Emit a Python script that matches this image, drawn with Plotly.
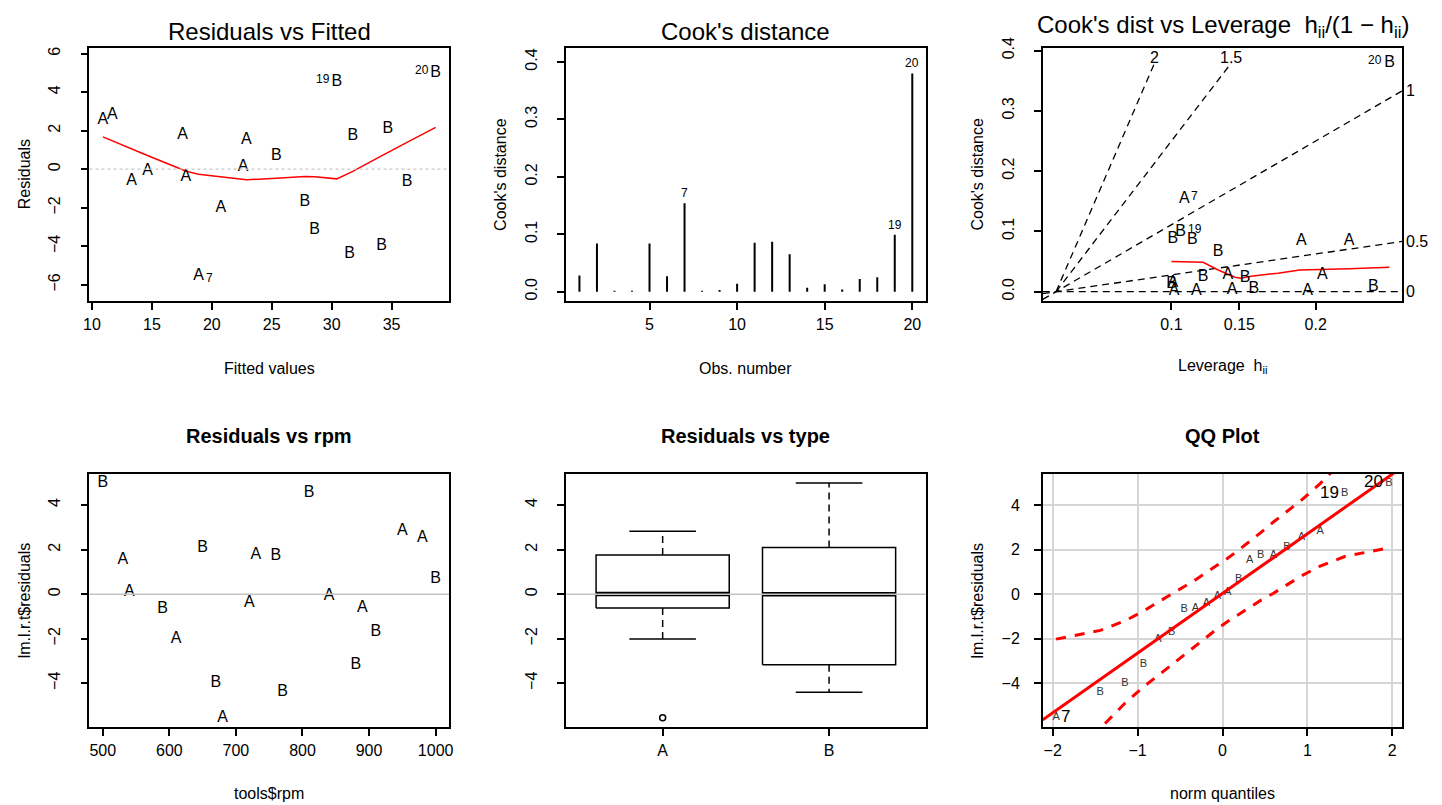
import plotly.graph_objects as go

W, H = 1442, 805          # browser window
OFF = 8                   # default page margin of the html body
FW, FH = W - OFF, H - OFF  # figure size so that it fits the window exactly
FONT = "Liberation Sans, Arial, Helvetica, sans-serif"

# ---------------- data ----------------
obs = list(range(1, 21))
tool_type = ["A"] * 10 + ["B"] * 10
rpm = [610, 950, 720, 840, 980, 530, 680, 540, 890, 730,
       670, 770, 880, 1000, 760, 590, 910, 650, 810, 500]
fitted = [20.75, 11.70, 17.83, 14.63, 10.91, 22.88, 18.89, 22.62, 13.30, 17.56,
          34.16, 31.50, 28.57, 25.38, 31.76, 36.29, 27.77, 34.69, 30.43, 38.68]
resid = [-2.02, 2.82, -0.40, -0.09, 2.54, 1.51, -5.55, 0.10, -0.62, 1.76,
         -4.00, -4.41, -3.17, 0.67, 1.73, -0.67, -1.70, 2.09, 4.52, 4.99]
cooks = [0.028, 0.084, 0.0015, 0.0015, 0.084, 0.027, 0.154, 0.0015, 0.003, 0.014,
         0.085, 0.087, 0.065, 0.007, 0.013, 0.004, 0.022, 0.025, 0.099, 0.380]
leverage = [0.142, 0.191, 0.102, 0.119, 0.220, 0.204, 0.110, 0.195, 0.145, 0.101,
            0.116, 0.101, 0.135, 0.234, 0.100, 0.160, 0.154, 0.124, 0.107, 0.243]
id_obs = [7, 19, 20]

# smoother in Residuals vs Fitted
lowess_x = [10.91, 11.70, 13.30, 14.63, 17.56, 17.83, 18.89, 20.75, 22.62, 22.88,
            25.38, 27.77, 28.57, 30.43, 31.50, 31.76, 34.16, 34.69, 36.29, 38.68]
lowess_y = [1.68, 1.47, 1.06, 0.71, -0.03, -0.10, -0.26, -0.40, -0.53, -0.55,
            -0.47, -0.38, -0.39, -0.50, -0.19, -0.11, 0.69, 0.87, 1.39, 2.17]

# smoother in Cook's dist vs leverage
lev_smooth_h = [0.100, 0.124, 0.135, 0.147, 0.151, 0.158, 0.176, 0.190, 0.220, 0.243]
lev_smooth_cook = [0.050, 0.0486, 0.036, 0.024, 0.0224, 0.0257, 0.0306, 0.036, 0.038, 0.0404]

# contour levels of standardized residual
contour_full = [0, 0.5, 1]
contour_top = [1.5, 2]
contour_top_end = 0.38
lev_ticks = [0.1, 0.15, 0.2]

# boxplot stats (Residuals vs type)
box_cats = ["A", "B"]
box_lo = [-2.02, -4.41]
box_q1 = [-0.62, -3.17]
box_med = [0.005, 0.0]
box_q3 = [1.76, 2.09]
box_hi = [2.82, 4.99]
box_out_cat = ["A"]
box_out_val = [-5.55]

# QQ plot
qq_theoretical = [-1.96, -1.44, -1.15, -0.93, -0.76, -0.60, -0.45, -0.32, -0.19, -0.06,
                  0.06, 0.19, 0.32, 0.45, 0.60, 0.76, 0.93, 1.15, 1.44, 1.96]
qq_band_upper = [-2.02, -1.63, -1.20, -0.76, -0.36, 0.02, 0.34, 0.64, 0.96, 1.29,
                 1.61, 1.98, 2.36, 2.76, 3.24, 3.72, 4.22, 4.96, 6.09, 8.48]
qq_band_lower = [-8.42, -6.03, -4.90, -4.16, -3.66, -3.18, -2.70, -2.30, -1.92, -1.55,
                 -1.23, -0.90, -0.58, -0.28, 0.04, 0.42, 0.82, 1.26, 1.69, 2.08]
qq_intercept = 0.03
qq_slope = 2.68

# ---------------- layout helpers (page pixel coordinates) ----------------
cols = [(84, 446), (564, 926), (1044, 1406)]
rows = [(37, 294), (469, 726)]


def fx(px):
    return (px - OFF) / FW


def fy(py):
    return 1 - (py - OFF) / FH


def xdom(c):
    return [fx(cols[c][0]), fx(cols[c][1])]


def ydom(r):
    return [fy(rows[r][1]), fy(rows[r][0])]


def axis(dom, anchor, rng, **kw):
    d = dict(domain=dom, anchor=anchor, range=rng, showline=True, mirror=True,
             linecolor="black", linewidth=1.5, ticks="outside", ticklen=7,
             tickwidth=1.5, tickcolor="black", showgrid=False, zeroline=False,
             tickfont=dict(family=FONT, size=16, color="black"))
    d.update(kw)
    return d


fig = go.Figure()
annotations = []
shapes = []


def ann(text, px, py, size=16, bold=False, angle=0, xanchor="center", yanchor="middle"):
    if bold:
        text = "<b>" + text + "</b>"
    annotations.append(dict(text=text, x=fx(px), y=fy(py), xref="paper", yref="paper",
                            showarrow=False, textangle=angle, xanchor=xanchor, yanchor=yanchor,
                            font=dict(family=FONT, size=size, color="black")))


def dann(text, x, y, ax, size=12, xanchor="center", yanchor="middle", xs=0, ys=0, color="black"):
    annotations.append(dict(text=text, x=x, y=y, xref="x" + ax, yref="y" + ax,
                            showarrow=False, xanchor=xanchor, yanchor=yanchor,
                            xshift=xs, yshift=ys,
                            font=dict(family=FONT, size=size, color=color)))


def hline0(ax, color, dash, width):
    shapes.append(dict(type="line", xref="x" + ax + " domain", yref="y" + ax,
                       x0=0, x1=1, y0=0, y1=0, layer="above",
                       line=dict(color=color, dash=dash, width=width)))


def letters(x, y, ax, labels, size=16, color="black"):
    fig.add_trace(go.Scatter(x=x, y=y, mode="text", text=labels,
                             textfont=dict(family=FONT, size=size, color=color),
                             textposition="middle center", cliponaxis=False,
                             xaxis="x" + ax, yaxis="y" + ax, hoverinfo="skip"))


# ---------------- Panel 1: Residuals vs Fitted ----------------
fig.add_trace(go.Scatter(x=lowess_x, y=lowess_y, mode="lines", line=dict(color="red", width=1.5),
                         xaxis="x", yaxis="y", hoverinfo="skip"))
letters(fitted, resid, "", tool_type)
hline0("", "#c8c8c8", "dot", 1.2)
for i in id_obs:
    k = i - 1
    if i == 7:
        dann(str(i), fitted[k], resid[k], "", size=12, xanchor="left", xs=5, ys=-2)
    else:
        dann(str(i), fitted[k], resid[k], "", size=12, xanchor="right", xs=-5, ys=3)

# ---------------- Panel 2: Cook's distance ----------------
bx, by = [], []
for o, c in zip(obs, cooks):
    bx += [o, o, None]
    by += [0, c, None]
fig.add_trace(go.Scatter(x=bx, y=by, mode="lines", line=dict(color="black", width=2),
                         xaxis="x2", yaxis="y2", hoverinfo="skip"))
for i in id_obs:
    dann(str(i), obs[i - 1], cooks[i - 1], "2", size=12, yanchor="bottom", ys=1)

# ---------------- Panel 3: Cook's dist vs Leverage ----------------
g = [h / (1 - h) for h in leverage]
x3 = [-0.0128, 0.3333]
y3 = [-0.0156, 0.405]
for b in contour_full:
    fig.add_trace(go.Scatter(x=x3, y=[b * b * v for v in x3], mode="lines",
                             line=dict(color="black", dash="7px,5px", width=1.3),
                             xaxis="x3", yaxis="y3", hoverinfo="skip"))
    dann(str(b), x3[1], b * b * x3[1], "3", size=16, xanchor="left", xs=2)
for b in contour_top:
    xi = contour_top_end / (b * b)
    fig.add_trace(go.Scatter(x=[0, xi], y=[0, contour_top_end], mode="lines",
                             line=dict(color="black", dash="7px,5px", width=1.3),
                             xaxis="x3", yaxis="y3", hoverinfo="skip"))
    dann(str(b), xi, 0.389, "3", size=16)
fig.add_trace(go.Scatter(x=[h / (1 - h) for h in lev_smooth_h], y=lev_smooth_cook, mode="lines",
                         line=dict(color="red", width=1.5), xaxis="x3", yaxis="y3",
                         hoverinfo="skip"))
letters(g, cooks, "3", tool_type)
for i in id_obs:
    k = i - 1
    if i == 20:
        dann(str(i), g[k], cooks[k], "3", size=12, xanchor="right", xs=-5, ys=3)
    else:
        dann(str(i), g[k], cooks[k], "3", size=12, xanchor="left", xs=5, ys=3)

# ---------------- Panel 4: Residuals vs rpm ----------------
letters(rpm, resid, "4", tool_type)
hline0("4", "#c4c4c4", "solid", 1.5)

# ---------------- Panel 5: Residuals vs type ----------------
half, staple = 0.4, 0.2
for p, lo, q1, md, q3, hi in zip([1, 2], box_lo, box_q1, box_med, box_q3, box_hi):
    fig.add_trace(go.Scatter(x=[p - half, p + half, p + half, p - half, p - half],
                             y=[q1, q1, q3, q3, q1], mode="lines",
                             line=dict(color="black", width=1.5), xaxis="x5", yaxis="y5",
                             hoverinfo="skip"))
    fig.add_trace(go.Scatter(x=[p - half, p + half], y=[md, md], mode="lines",
                             line=dict(color="black", width=4.5), xaxis="x5", yaxis="y5",
                             hoverinfo="skip"))
    fig.add_trace(go.Scatter(x=[p, p, None, p, p], y=[q3, hi, None, q1, lo], mode="lines",
                             line=dict(color="black", width=1.5, dash="7px,5px"),
                             xaxis="x5", yaxis="y5", hoverinfo="skip"))
    fig.add_trace(go.Scatter(x=[p - staple, p + staple, None, p - staple, p + staple],
                             y=[hi, hi, None, lo, lo], mode="lines",
                             line=dict(color="black", width=1.5),
                             xaxis="x5", yaxis="y5", hoverinfo="skip"))
fig.add_trace(go.Scatter(x=[box_cats.index(c) + 1 for c in box_out_cat], y=box_out_val,
                         mode="markers",
                         marker=dict(symbol="circle-open", size=6, color="black",
                                     line=dict(width=1.5)),
                         xaxis="x5", yaxis="y5", hoverinfo="skip"))
hline0("5", "#c4c4c4", "solid", 1.5)

# ---------------- Panel 6: QQ Plot ----------------
order = sorted(range(20), key=lambda k: resid[k])
qq_y = [resid[k] for k in order]
qq_lab = [tool_type[k] for k in order]
x6 = [-2.117, 2.117]
letters(qq_theoretical, qq_y, "6", qq_lab, size=11, color="#333333")
fig.add_trace(go.Scatter(x=x6, y=[qq_intercept + qq_slope * v for v in x6], mode="lines",
                         line=dict(color="red", width=3), xaxis="x6", yaxis="y6",
                         hoverinfo="skip"))
for band in (qq_band_upper, qq_band_lower):
    fig.add_trace(go.Scatter(x=qq_theoretical, y=band, mode="lines",
                             line=dict(color="red", width=3, dash="10px,9px"),
                             xaxis="x6", yaxis="y6", hoverinfo="skip"))
for i in id_obs:
    pos = order.index(i - 1)
    if i == 7:
        dann(str(i), qq_theoretical[pos], qq_y[pos], "6", size=17, xanchor="left", xs=3, ys=1)
    else:
        dann(str(i), qq_theoretical[pos], qq_y[pos], "6", size=17, xanchor="right", xs=-4, ys=1)

# ---------------- titles & axis titles ----------------
ann("Residuals vs Fitted", 265, 21, size=24)
ann("Cook's distance", 745, 21, size=24)
ann("Cook's dist vs Leverage  h<sub>ii</sub>/(1 \u2212 h<sub>ii</sub>)", 1225, 16, size=24)
ann("Residuals vs rpm", 265, 431, size=20, bold=True)
ann("Residuals vs type", 745, 431, size=20, bold=True)
ann("QQ Plot", 1225, 431, size=20, bold=True)

ann("Fitted values", 265, 362)
ann("Obs. number", 745, 362)
ann("Leverage  h<sub>ii</sub>", 1225, 360)
ann("tools$rpm", 265, 793)
ann("norm quantiles", 1225, 793)
ann("Residuals", 18, 165.5, angle=-90)
ann("Cook's distance", 498, 165.5, angle=-90)
ann("Cook's distance", 978, 165.5, angle=-90)
ann("lm.l.r.t$residuals", 18, 597.5, angle=-90)
ann("lm.l.r.t$residuals", 978, 597.5, angle=-90)

ystd = dict(tickangle=-90, ticklabelstandoff=14)
xstd = dict(ticklabelstandoff=1)
res_ticks = dict(tickvals=[-4, -2, 0, 2, 4])

fig.update_layout(
    width=FW, height=FH, margin=dict(l=0, r=0, t=0, b=0),
    paper_bgcolor="white", plot_bgcolor="white", showlegend=False,
    font=dict(family=FONT, color="black"),
    xaxis=axis(xdom(0), "y", [9.79, 39.79], tickvals=[10, 15, 20, 25, 30, 35], **xstd),
    yaxis=axis(ydom(0), "x", [-6.84, 6.31], tickvals=[-6, -4, -2, 0, 2, 4, 6], **ystd),
    xaxis2=axis(xdom(1), "y2", [0.24, 20.76], tickvals=[5, 10, 15, 20], **xstd),
    yaxis2=axis(ydom(0), "x2", [-0.0163, 0.4249], tickvals=[0, 0.1, 0.2, 0.3, 0.4],
                ticktext=["0.0", "0.1", "0.2", "0.3", "0.4"], **ystd),
    xaxis3=axis(xdom(2), "y3", x3, tickvals=[h / (1 - h) for h in lev_ticks],
                ticktext=[str(h) for h in lev_ticks], **xstd),
    yaxis3=axis(ydom(0), "x3", y3, tickvals=[0, 0.1, 0.2, 0.3, 0.4],
                ticktext=["0.0", "0.1", "0.2", "0.3", "0.4"], **ystd),
    xaxis4=axis(xdom(0), "y4", [480, 1020], tickvals=[500, 600, 700, 800, 900, 1000], **xstd),
    yaxis4=axis(ydom(1), "x4", [-5.97, 5.41], **res_ticks, **ystd),
    xaxis5=axis(xdom(1), "y5", [0.42, 2.58], tickvals=[1, 2], ticktext=box_cats, **xstd),
    yaxis5=axis(ydom(1), "x5", [-5.97, 5.41], **res_ticks, **ystd),
    xaxis6=axis(xdom(2), "y6", x6, tickvals=[-2, -1, 0, 1, 2], showgrid=True,
                gridcolor="#d6d6d6", gridwidth=1.5, **xstd),
    yaxis6=axis(ydom(1), "x6", [-5.97, 5.41], **res_ticks, showgrid=True,
                gridcolor="#d6d6d6", gridwidth=1.5, ticklabelstandoff=11),
    annotations=annotations, shapes=shapes,
)

fig.write_html("out.html")
